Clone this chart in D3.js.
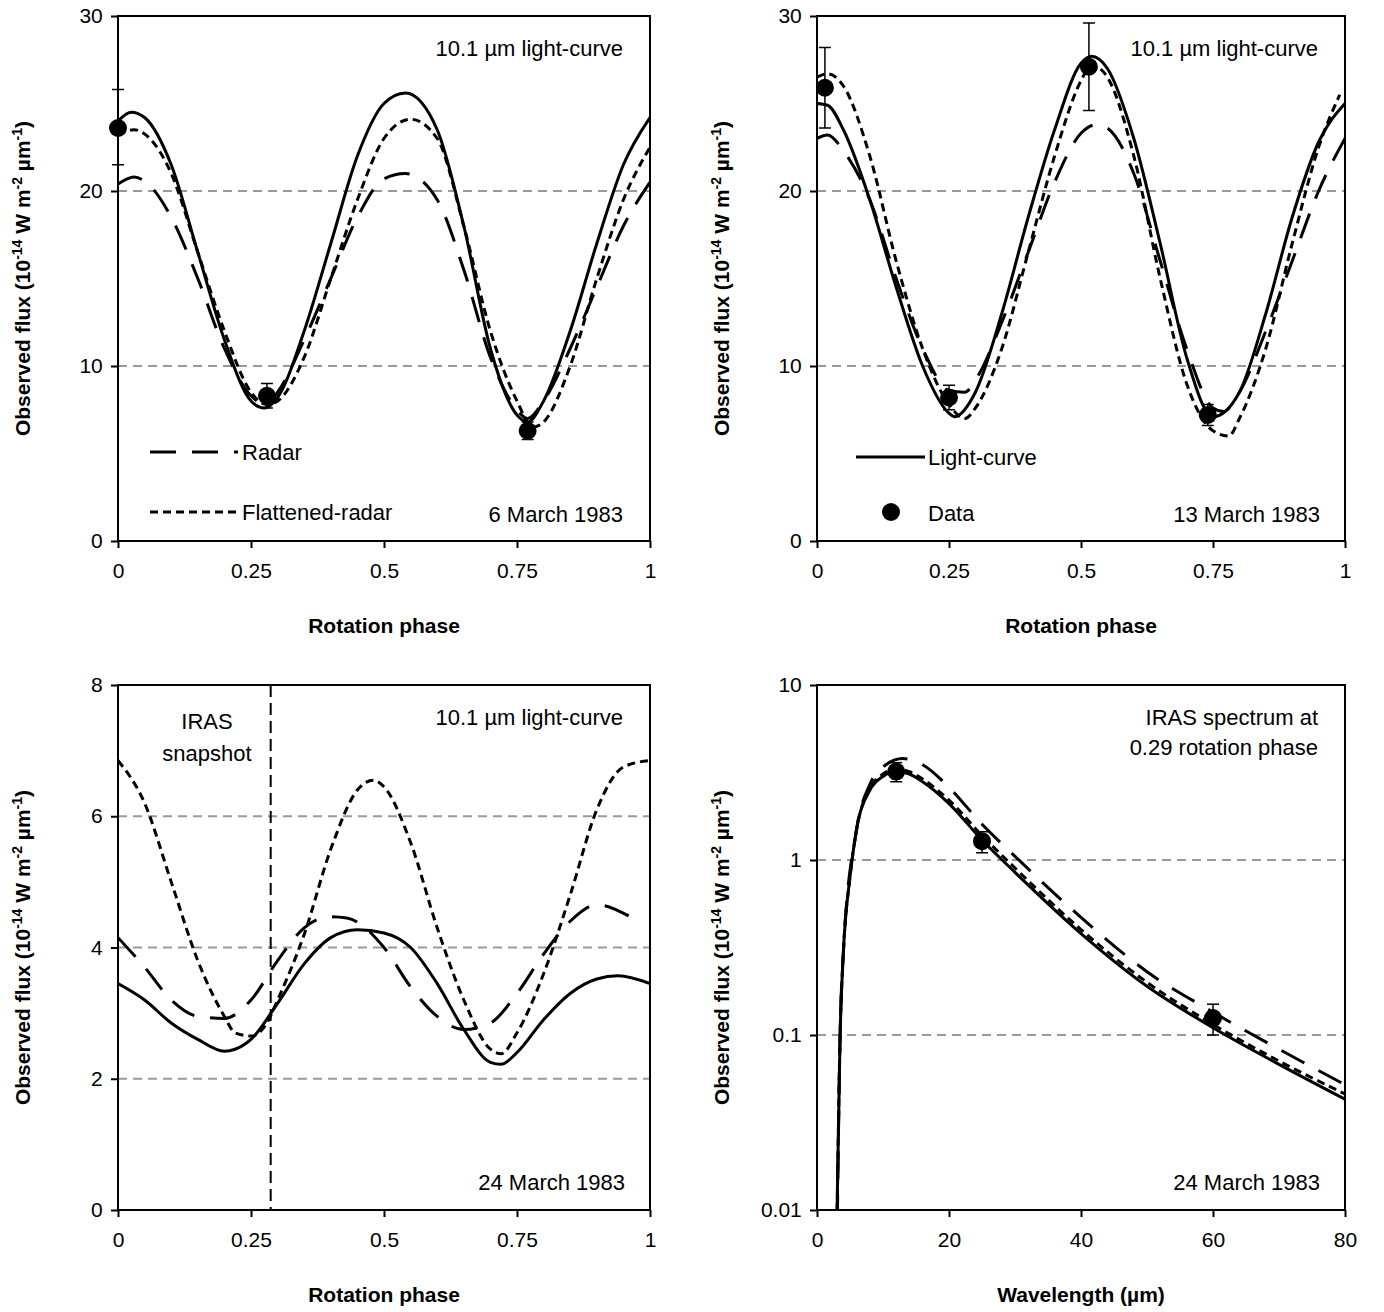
<!DOCTYPE html>
<html><head><meta charset="utf-8">
<script src="https://d3js.org/d3.v7.min.js"></script>
<style>body{margin:0;background:#fff}text{font-family:"Liberation Sans",Arial,sans-serif}</style>
</head><body><div id="chart"></div>
<script>
// ---- data ----
const tlLight = [[0,24.0],[0.025,24.5],[0.05,24.2],[0.1,21.5],[0.15,16.5],[0.2,11.5],[0.25,8.0],[0.275,7.6],[0.3,8.2],[0.35,12],[0.4,17],[0.45,22],[0.5,25],[0.54,25.6],[0.6,23.5],[0.65,18],[0.7,11],[0.75,7.2],[0.77,6.8],[0.8,8],[0.85,12],[0.9,17],[0.95,21.5],[1,24.2]];
const tlRadar = [[0,20.4],[0.03,20.8],[0.06,20.3],[0.1,18.5],[0.15,15],[0.2,11],[0.25,8.3],[0.28,7.8],[0.3,8.5],[0.35,11.5],[0.4,15],[0.45,18.5],[0.5,20.7],[0.54,21],[0.6,19.5],[0.65,15.5],[0.7,10.5],[0.75,7.5],[0.77,7.0],[0.8,8],[0.85,11],[0.9,14.5],[0.95,18],[1,20.5]];
const tlFlat = [[0,23.2],[0.03,23.5],[0.06,23.0],[0.1,21],[0.15,16.5],[0.2,12],[0.25,8.5],[0.28,7.8],[0.3,8.0],[0.35,10.5],[0.4,15],[0.45,19.5],[0.5,23],[0.55,24.1],[0.6,23],[0.65,18],[0.7,12],[0.75,8],[0.78,6.5],[0.8,6.8],[0.85,10],[0.9,15],[0.95,19.5],[1,22.5]];
const tlData = [[0,23.6,21.5,25.8],[0.28,8.3,7.6,9.0],[0.77,6.3,5.8,6.8]];

const trLight = [[0,25],[0.02,24.9],[0.05,23.5],[0.1,19.5],[0.15,14.5],[0.2,10],[0.25,7.3],[0.26,7.1],[0.3,8.5],[0.35,13],[0.4,18.5],[0.45,23.5],[0.5,27.3],[0.52,27.7],[0.55,27],[0.6,23],[0.65,17],[0.7,10.5],[0.75,7.1],[0.8,8.5],[0.85,13],[0.9,18.5],[0.95,22.8],[1,25]];
const trRadar = [[0,23],[0.02,23.2],[0.05,22.3],[0.1,19.5],[0.15,15],[0.2,11],[0.25,8.6],[0.28,8.5],[0.3,9.2],[0.35,12.5],[0.4,16.5],[0.45,20.5],[0.5,23.3],[0.53,23.8],[0.55,23.6],[0.6,21],[0.65,16],[0.7,11],[0.75,7.6],[0.77,7.4],[0.8,8.5],[0.85,12],[0.9,16],[0.95,20],[1,23]];
const trFlat = [[0,26.5],[0.02,26.7],[0.05,26],[0.1,22],[0.15,16],[0.2,11],[0.25,7.8],[0.28,7.0],[0.3,7.6],[0.35,11],[0.4,16.5],[0.45,22],[0.5,26.3],[0.52,27.2],[0.55,26.5],[0.6,22],[0.65,15],[0.7,9],[0.75,6.3],[0.78,6.0],[0.8,7],[0.85,11],[0.9,17],[0.95,22.5],[0.99,25.5]];
const trData = [[0.015,25.9,23.6,28.2],[0.25,8.2,7.5,8.9],[0.515,27.1,24.6,29.6],[0.74,7.2,6.6,7.8]];

const blLight = [[0,3.45],[0.05,3.2],[0.1,2.85],[0.15,2.6],[0.2,2.42],[0.22,2.45],[0.25,2.6],[0.3,3.15],[0.35,3.75],[0.4,4.15],[0.45,4.27],[0.5,4.22],[0.55,4.0],[0.6,3.45],[0.65,2.75],[0.7,2.25],[0.72,2.22],[0.75,2.4],[0.8,2.9],[0.85,3.3],[0.9,3.52],[0.94,3.57],[1,3.45]];
const blRadar = [[0,4.15],[0.05,3.7],[0.1,3.2],[0.15,2.95],[0.2,2.92],[0.25,3.2],[0.3,3.8],[0.35,4.3],[0.4,4.47],[0.43,4.45],[0.5,4.0],[0.55,3.4],[0.6,2.95],[0.65,2.75],[0.7,2.85],[0.75,3.3],[0.8,3.9],[0.85,4.4],[0.9,4.65],[0.96,4.48]];
const blFlat = [[0,6.85],[0.05,6.2],[0.1,5.0],[0.15,3.8],[0.2,2.95],[0.22,2.7],[0.25,2.65],[0.28,2.85],[0.3,3.2],[0.35,4.2],[0.4,5.5],[0.45,6.4],[0.48,6.55],[0.5,6.45],[0.55,5.6],[0.6,4.3],[0.65,3.2],[0.7,2.45],[0.72,2.38],[0.75,2.7],[0.8,3.6],[0.85,4.8],[0.9,6.1],[0.95,6.75],[1,6.85]];
const irasPhase = 0.287;

const brLight = [[2.9,0.005],[3.5,0.1],[4,0.3],[5,0.8],[6,1.5],[8,2.5],[10,3.0],[12,3.2],[14,3.1],[16,2.8],[20,2.1],[25,1.3],[30,0.85],[40,0.38],[50,0.19],[60,0.11],[70,0.068],[80,0.043]];
const brRadar = [[3.0,0.005],[3.5,0.1],[4,0.3],[6,1.5],[8,2.7],[10,3.4],[13,3.8],[16,3.5],[20,2.6],[25,1.6],[30,1.05],[40,0.47],[50,0.23],[60,0.135],[70,0.083],[80,0.052]];
const brFlat = [[2.95,0.005],[3.5,0.1],[4,0.3],[5,0.8],[6,1.5],[8,2.55],[10,3.1],[12,3.3],[14,3.2],[16,2.9],[20,2.2],[25,1.38],[30,0.9],[40,0.4],[50,0.2],[60,0.115],[70,0.071],[80,0.046]];
const brData = [[12,3.2,2.8,3.6],[25,1.28,1.1,1.45],[60,0.125,0.1,0.15]];

const phaseTicks = [0,0.25,0.5,0.75,1];
const yTicksTop = [0,10,20,30];
const yTicksBL = [0,2,4,6,8];
const yTicksBR = [0.01,0.1,1,10];
const xTicksBR = [0,20,40,60,80];

const styles = {
  light: {w:3, dash:null},
  radar: {w:3, dash:"26,16"},
  flat:  {w:3, dash:"8,5"}
};

const svg = d3.select("#chart").append("svg").attr("width",1384).attr("height",1312);

function panel(o){
  const g = svg.append("g");
  const x = d3.scaleLinear().domain(o.xd).range([o.x0,o.x1]);
  const y = (o.log ? d3.scaleLog() : d3.scaleLinear()).domain(o.yd).range([o.y1,o.y0]);
  const cid = "c"+Math.round(o.x0)+"_"+Math.round(o.y0);
  svg.append("clipPath").attr("id",cid).append("rect")
    .attr("x",o.x0).attr("y",o.y0).attr("width",o.x1-o.x0).attr("height",o.y1-o.y0);
  g.selectAll(".grid").data(o.grid).join("line")
    .attr("x1",o.x0).attr("x2",o.x1).attr("y1",d=>y(d)).attr("y2",d=>y(d))
    .attr("stroke","#999").attr("stroke-width",2).attr("stroke-dasharray","9,6");
  g.append("rect").attr("x",o.x0).attr("y",o.y0).attr("width",o.x1-o.x0).attr("height",o.y1-o.y0)
    .attr("fill","none").attr("stroke","#000").attr("stroke-width",2);
  const ax = g.append("g").attr("transform",`translate(0,${o.y1})`)
    .call(d3.axisBottom(x).tickValues(o.xt).tickSize(7).tickFormat(d=>String(d)));
  const ay = g.append("g").attr("transform",`translate(${o.x0},0)`)
    .call(d3.axisLeft(y).tickValues(o.yt).tickSize(7).tickFormat(d=>String(d)));
  [ax,ay].forEach(a=>{
    a.select(".domain").remove();
    a.selectAll("line").attr("stroke","#000").attr("stroke-width",2);
    a.selectAll("text").attr("font-size",21).attr("fill","#000");
  });
  ax.selectAll("text").attr("dy","1.3em");
  ay.selectAll("text").attr("dx","-0.25em");
  const line = d3.line().x(d=>x(d[0])).y(d=>y(d[1])).curve(d3.curveMonotoneX);
  const cg = g.append("g").attr("clip-path",`url(#${cid})`);
  o.series.forEach(s=>{
    cg.append("path").attr("d",line(s.data)).attr("fill","none").attr("stroke","#000")
      .attr("stroke-width",styles[s.st].w).attr("stroke-dasharray",styles[s.st].dash);
  });
  (o.points||[]).forEach(p=>{
    const px=x(p[0]);
    g.append("line").attr("x1",px).attr("x2",px).attr("y1",y(p[2])).attr("y2",y(p[3])).attr("stroke","#000").attr("stroke-width",1.5);
    [p[2],p[3]].forEach(v=>g.append("line").attr("x1",px-6).attr("x2",px+6).attr("y1",y(v)).attr("y2",y(v)).attr("stroke","#000").attr("stroke-width",1.5));
    g.append("circle").attr("cx",px).attr("cy",y(p[1])).attr("r",9).attr("fill","#000");
  });
  g.append("text").attr("x",(o.x0+o.x1)/2).attr("y",o.y1+92).attr("text-anchor","middle")
    .attr("font-size",21).attr("font-weight","bold").text(o.xl);
  const yt = g.append("text").attr("transform",`translate(${o.x0-88},${(o.y0+o.y1)/2}) rotate(-90)`)
    .attr("text-anchor","middle").attr("font-size",21).attr("font-weight","bold");
  yt.append("tspan").text("Observed flux (10");
  yt.append("tspan").attr("font-size",14).attr("dy",-8).text("-14");
  yt.append("tspan").attr("dy",8).text(" W m");
  yt.append("tspan").attr("font-size",14).attr("dy",-8).text("-2");
  yt.append("tspan").attr("dy",8).text(" µm");
  yt.append("tspan").attr("font-size",14).attr("dy",-8).text("-1");
  yt.append("tspan").attr("dy",8).text(")");
  (o.labels||[]).forEach(l=>g.append("text").attr("x",l[0]).attr("y",l[1]).attr("text-anchor",l[3]||"end")
    .attr("font-size",22).text(l[2]));
  return {g,x,y};
}

const L=118, R=650, L2=817, R2=1345, T=16, B=541, T2=685, B2=1210;

const p1 = panel({x0:L,x1:R,y0:T,y1:B,xd:[0,1],yd:[0,30],xt:phaseTicks,yt:yTicksTop,grid:[10,20],
  series:[{data:tlRadar,st:"radar"},{data:tlFlat,st:"flat"},{data:tlLight,st:"light"}],points:tlData,
  xl:"Rotation phase",labels:[[623,56,"10.1 µm light-curve"],[623,522,"6 March 1983"]]});
p1.g.append("line").attr("x1",150).attr("x2",238).attr("y1",452).attr("y2",452).attr("stroke","#000").attr("stroke-width",3).attr("stroke-dasharray",styles.radar.dash);
p1.g.append("text").attr("x",242).attr("y",460).attr("font-size",22).text("Radar");
p1.g.append("line").attr("x1",150).attr("x2",238).attr("y1",512).attr("y2",512).attr("stroke","#000").attr("stroke-width",3).attr("stroke-dasharray",styles.flat.dash);
p1.g.append("text").attr("x",242).attr("y",520).attr("font-size",22).text("Flattened-radar");

const p2 = panel({x0:L2,x1:R2,y0:T,y1:B,xd:[0,1],yd:[0,30],xt:phaseTicks,yt:yTicksTop,grid:[10,20],
  series:[{data:trRadar,st:"radar"},{data:trFlat,st:"flat"},{data:trLight,st:"light"}],points:trData,
  xl:"Rotation phase",labels:[[1318,56,"10.1 µm light-curve"],[1320,522,"13 March 1983"]]});
p2.g.append("line").attr("x1",856).attr("x2",925).attr("y1",457).attr("y2",457).attr("stroke","#000").attr("stroke-width",3);
p2.g.append("text").attr("x",928).attr("y",465).attr("font-size",22).text("Light-curve");
p2.g.append("circle").attr("cx",891).attr("cy",512).attr("r",9).attr("fill","#000");
p2.g.append("text").attr("x",928).attr("y",521).attr("font-size",22).text("Data");

const p3 = panel({x0:L,x1:R,y0:T2,y1:B2,xd:[0,1],yd:[0,8],xt:phaseTicks,yt:yTicksBL,grid:[2,4,6],
  series:[{data:blRadar,st:"radar"},{data:blFlat,st:"flat"},{data:blLight,st:"light"}],
  xl:"Rotation phase",labels:[[623,725,"10.1 µm light-curve"],[625,1190,"24 March 1983"],[207,729,"IRAS","middle"],[207,761,"snapshot","middle"]]});
p3.g.append("line").attr("x1",p3.x(irasPhase)).attr("x2",p3.x(irasPhase)).attr("y1",T2).attr("y2",B2)
  .attr("stroke","#000").attr("stroke-width",2).attr("stroke-dasharray","12,6");

panel({x0:L2,x1:R2,y0:T2,y1:B2,xd:[0,80],yd:[0.01,10],log:true,xt:xTicksBR,yt:yTicksBR,grid:[0.1,1],
  series:[{data:brRadar,st:"radar"},{data:brFlat,st:"flat"},{data:brLight,st:"light"}],points:brData,
  xl:"Wavelength (µm)",labels:[[1318,725,"IRAS spectrum at"],[1318,755,"0.29 rotation phase"],[1320,1190,"24 March 1983"]]});
</script></body></html>
